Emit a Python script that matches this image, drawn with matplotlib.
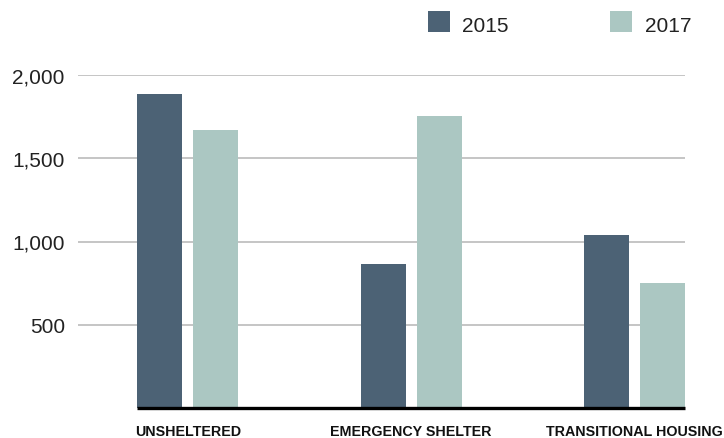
import matplotlib
matplotlib.use("Agg")
import matplotlib.pyplot as plt
import numpy as np
from matplotlib.patches import Rectangle

categories = ["UNSHELTERED", "EMERGENCY SHELTER", "TRANSITIONAL HOUSING"]
series_names = ["2015", "2017"]
values_2015 = [1886, 865, 1039]
values_2017 = [1670, 1754, 751]
yticks = [500, 1000, 1500, 2000]
ytick_labels = ["500", "1,000", "1,500", "2,000"]

c2015 = "#4c6275"
c2017 = "#abc7c2"

fig = plt.figure(figsize=(7.24, 4.39), dpi=100)
ax = fig.add_axes([78/724, 1-409/439, (685-78)/724, (409-76)/439])

x = np.arange(len(categories))
w = 0.2
off = 0.125
ax.bar(x - off, values_2015, width=w, color=c2015, zorder=3)
ax.bar(x + off, values_2017, width=w, color=c2017, zorder=3)

ax.set_xlim(-0.491, 2.225)
ax.set_ylim(0, 2000)
for t in yticks:
    ax.axhline(t, color="#bbbbbb", linewidth=1.2, zorder=1)
ax.hlines(0, -0.225, 2.225, color="black", linewidth=2.4, zorder=4, clip_on=False)

for s in ax.spines.values():
    s.set_visible(False)
ax.set_yticks(yticks)
ax.set_yticklabels(ytick_labels, fontsize=15, family=["Liberation Sans", "DejaVu Sans"], color="#222222")
ax.tick_params(axis="y", length=0, pad=9.5)
ax.set_xticks(x)
ax.set_xticklabels(categories, fontsize=10.3, fontweight="bold",
                   family=["Liberation Sans", "DejaVu Sans"], color="#111111")
ax.tick_params(axis="x", length=0, pad=11.5)

# legend
lx = [428, 610]
tx = [462, 645]
for i, (name, col) in enumerate(zip(series_names, [c2015, c2017])):
    fig.patches.append(Rectangle((lx[i]/724, 1-33/439), 22/724, 21/439, transform=fig.transFigure,
                                 facecolor=col, edgecolor="none"))
    fig.text(tx[i]/724, 1-26/439, name, fontsize=15, va="center", ha="left",
             family=["Liberation Sans", "DejaVu Sans"], color="#222222")

fig.savefig("out.png", dpi=100)
